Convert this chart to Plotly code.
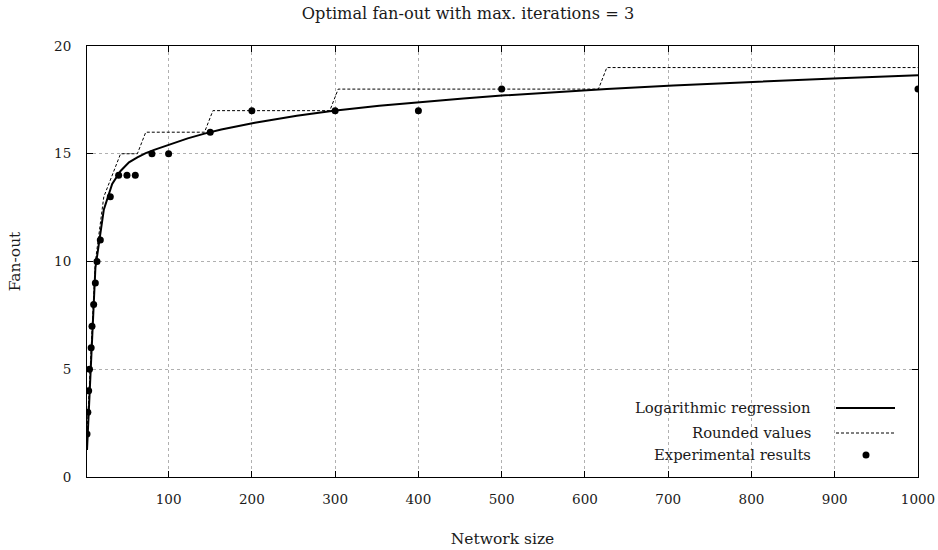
import plotly.graph_objects as go

# Experimental results
exp_size = [2, 3, 4, 5, 7, 8, 10, 12, 14, 18, 30, 40, 50, 60, 80, 100, 150, 200, 300, 400, 500, 1000]
exp_fanout = [2, 3, 4, 5, 6, 7, 8, 9, 10, 11, 13, 14, 14, 14, 15, 15, 16, 17, 17, 17, 18, 18]

# Logarithmic regression
reg_size = [2, 12.08, 22.16, 32.24, 42.32, 52.4, 62.48, 72.56, 82.64, 92.72, 102.8,
            122.96, 143.12, 153.2, 163.28, 203.6, 253.99, 293.6, 303.68, 353, 403,
            454, 504, 554, 616.2, 626.3, 706, 806, 906, 1000]
reg_fanout = [1.25, 9.7, 12.4, 13.6, 14.2, 14.6, 14.83, 15.03, 15.18, 15.32, 15.457,
              15.715, 15.935, 16.033, 16.125, 16.443, 16.76, 16.97, 17.02, 17.225, 17.405,
              17.567, 17.709, 17.837, 17.982, 18.004, 18.167, 18.347, 18.506, 18.64]

# Rounded values (ceil of regression at sample points)
rnd_size = [2, 12.08, 22.16, 32.24, 42.32, 62.48, 72.56, 143.12, 153.2, 293.6, 303.68, 616.2, 626.3, 1000]
rnd_fanout = [2, 10, 13, 14, 15, 15, 16, 16, 17, 17, 18, 18, 19, 19]

x_ticks = [100, 200, 300, 400, 500, 600, 700, 800, 900, 1000]
y_ticks = [0, 5, 10, 15, 20]

FONT = "DejaVu Serif"
TXT = "#1a1a1a"

fig = go.Figure()
fig.add_trace(go.Scatter(x=rnd_size, y=rnd_fanout, mode="lines",
                         line=dict(color="black", width=1, dash="3px,2px"),
                         name="Rounded values", showlegend=False))
fig.add_trace(go.Scatter(x=reg_size, y=reg_fanout, mode="lines",
                         line=dict(color="black", width=2),
                         name="Logarithmic regression", showlegend=False))
fig.add_trace(go.Scatter(x=exp_size, y=exp_fanout, mode="markers",
                         marker=dict(color="black", size=7),
                         name="Experimental results", showlegend=False))

W, H = 938, 550
L, T, R, B = 87, 46, 20, 73
pw, ph = W - L - R, H - T - B

def px(xp):
    return (xp - L) / pw

def py(yp):
    return (H - B - yp) / ph

shapes = [
    dict(type="rect", xref="paper", yref="paper", x0=px(575), x1=px(916), y0=py(463), y1=py(395),
         fillcolor="white", line=dict(width=0), layer="between"),
    dict(type="line", xref="paper", yref="paper", x0=px(836), x1=px(895), y0=py(408), y1=py(408),
         line=dict(color="black", width=2), layer="above"),
    dict(type="line", xref="paper", yref="paper", x0=px(836), x1=px(895), y0=py(433), y1=py(433),
         line=dict(color="black", width=1, dash="3px,2px"), layer="above"),
    dict(type="circle", xref="paper", yref="paper", x0=px(862.5), x1=px(869.5), y0=py(458.5), y1=py(451.5),
         fillcolor="black", line=dict(width=0), layer="above"),
]

legend_items = [("Logarithmic regression", 407), ("Rounded values", 432), ("Experimental results", 454)]
annotations = [dict(text=t, xref="paper", yref="paper", x=px(813), y=py(yy), xanchor="right", yanchor="middle",
                    showarrow=False, font=dict(family=FONT, size=14.8, color=TXT))
               for t, yy in legend_items]

fig.update_layout(
    width=W, height=H,
    margin=dict(l=L, r=R, t=T, b=B, autoexpand=False),
    paper_bgcolor="white", plot_bgcolor="white",
    font=dict(family=FONT, size=13.5, color=TXT),
    title=dict(text="Optimal fan-out with max. iterations = 3", x=px(468), xref="paper", xanchor="center",
               y=1 - 13 / H, yanchor="middle", font=dict(family=FONT, size=16.2, color=TXT)),
    shapes=shapes, annotations=annotations, showlegend=False,
)
fig.update_xaxes(range=[2, 1000], tickvals=x_ticks, ticks="inside", ticklen=6, tickcolor="black",
                 showline=True, linecolor="black", linewidth=1, mirror="allticks",
                 showgrid=True, gridcolor="#b0b0b0", griddash="dot", gridwidth=1, zeroline=False,
                 ticklabelstandoff=10, automargin=False,
                 title=dict(text="Network size", standoff=26, font=dict(family=FONT, size=15.5)))
fig.update_yaxes(range=[0, 20], tickvals=y_ticks, ticks="inside", ticklen=6, tickcolor="black",
                 showline=True, linecolor="black", linewidth=1, mirror="allticks",
                 showgrid=True, gridcolor="#b0b0b0", griddash="dot", gridwidth=1, zeroline=False,
                 ticklabelstandoff=12, automargin=False,
                 title=dict(text="Fan-out", standoff=29, font=dict(family=FONT, size=15.5)))

fig.write_html("out.html", config={"displayModeBar": False},
               post_script="document.body.style.margin='0';document.body.style.overflow='hidden';")
